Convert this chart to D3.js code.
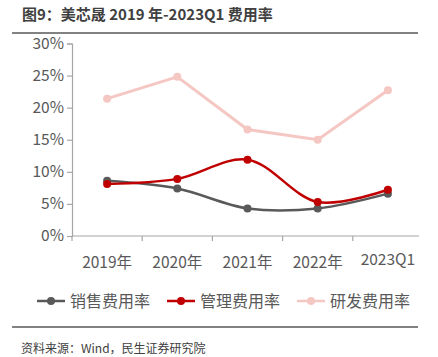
<!DOCTYPE html>
<html><head><meta charset="utf-8">
<script src="https://cdn.jsdelivr.net/npm/d3@7"></script>
<style>body{margin:0;background:#fff}svg{display:block}text{font-family:"Noto Sans CJK SC","Noto Sans",sans-serif}</style>
</head><body><svg id="c" width="438" height="357"></svg>
<script>
const categories = ["2019年","2020年","2021年","2022年","2023Q1"];
const sales = [8.6, 7.4, 4.3, 4.3, 6.6];
const admin = [8.1, 8.9, 11.9, 5.3, 7.2];
const rnd = [21.4, 24.8, 16.6, 15.0, 22.7];
const yTicks = [0,5,10,15,20,25,30];
const seriesNames = ["销售费用率","管理费用率","研发费用率"];
const colors = ["#595959","#C00000","#F4C7C3"];

const svg = d3.select("#c");
const x = d3.scaleBand().domain(categories).range([72, 423]);
const y = d3.scaleLinear().domain([0, 30]).range([236, 43.5]);
const grey = "#595959";

// title
svg.append("text").attr("x", 22).attr("y", 20).attr("font-size", 15).attr("font-weight", "bold").attr("fill", "#404040").text("图9：美芯晟 2019 年-2023Q1 费用率");
svg.append("line").attr("x1", 12).attr("x2", 418).attr("y1", 33).attr("y2", 33).attr("stroke", grey).attr("stroke-width", 1.5);

// y axis
const ya = svg.append("g").attr("transform", "translate(72,0)")
  .call(d3.axisLeft(y).tickValues(yTicks).tickSize(5).tickPadding(3).tickFormat(d => d + "%"));
ya.select(".domain").attr("stroke", "#A6A6A6").attr("stroke-width", 1.2);
ya.selectAll(".tick line").attr("stroke", "#A6A6A6").attr("stroke-width", 1.2);
ya.selectAll("text").attr("font-size", 15.5).attr("fill", grey).attr("font-family", '"Open Sans","Noto Sans",sans-serif');

// x axis
const xa = svg.append("g").attr("transform", "translate(0,236)")
  .call(d3.axisBottom(x).tickSize(0).tickPadding(10));
xa.select(".domain").attr("stroke", "#A6A6A6").attr("stroke-width", 1.2).attr("d", "M72,0H419");
xa.selectAll(".tick text").attr("font-size", 15.5).attr("fill", grey).attr("dy", "1em")
  .attr("y", (d,i) => i === 4 ? 13.5 : 16.5);
const bounds = categories.map(c => x(c));
svg.append("g").selectAll("line").data(bounds).join("line")
  .attr("x1", d => d).attr("x2", d => d).attr("y1", 236).attr("y2", 241)
  .attr("stroke", "#A6A6A6").attr("stroke-width", 1.2);

const cx = c => x(c) + x.bandwidth() / 2;
const data = [sales, admin, rnd];
const curves = [d3.curveCatmullRom.alpha(0.5), d3.curveCatmullRom.alpha(0.5), d3.curveLinear];
const widths = [2.5, 2.5, 3];
[2,0,1].forEach(k => {
  const vals = data[k];
  const line = d3.line().x((d,i) => cx(categories[i])).y(d => y(d)).curve(curves[k]);
  svg.append("path").attr("d", line(vals)).attr("fill", "none").attr("stroke", colors[k]).attr("stroke-width", widths[k]);
  svg.append("g").selectAll("circle").data(vals).join("circle")
    .attr("cx", (d,i) => cx(categories[i])).attr("cy", d => y(d)).attr("r", 4).attr("fill", colors[k]);
});

// legend
const lx = [37, 167, 297];
const lg = svg.append("g");
seriesNames.forEach((n, i) => {
  lg.append("line").attr("x1", lx[i]).attr("x2", lx[i] + 28).attr("y1", 301).attr("y2", 301).attr("stroke", colors[i]).attr("stroke-width", 2.5);
  lg.append("circle").attr("cx", lx[i] + 14).attr("cy", 301).attr("r", 4).attr("fill", colors[i]);
  lg.append("text").attr("x", lx[i] + 33).attr("y", 307).attr("font-size", 16).attr("fill", grey).text(n);
});

svg.append("line").attr("x1", 12).attr("x2", 418).attr("y1", 327).attr("y2", 327).attr("stroke", grey).attr("stroke-width", 1.5);
svg.append("text").attr("x", 21).attr("y", 353).attr("font-size", 12).attr("fill", "#404040").text("资料来源：Wind，民生证券研究院");
</script></body></html>
